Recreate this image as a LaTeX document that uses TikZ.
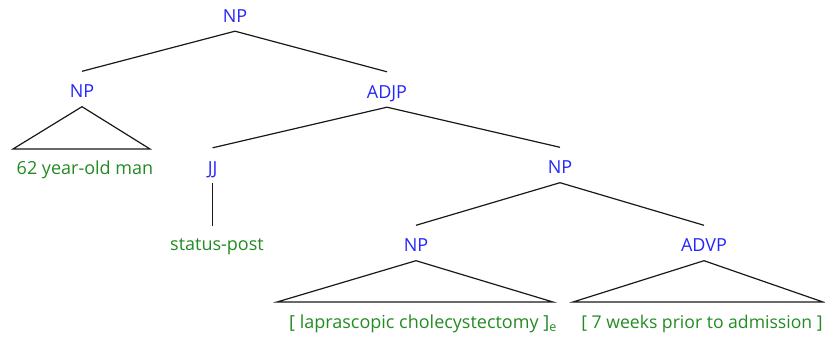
\documentclass[tikz,border=0pt]{standalone}
\usepackage{fontspec}
\setmainfont{Open Sans}
\definecolor{catblue}{RGB}{38,38,250}
\definecolor{wordgreen}{RGB}{34,139,34}
\begin{document}
\begin{tikzpicture}[x=1pt,y=1pt,
  cat/.style={anchor=base, inner sep=0pt, text=catblue,
    font=\fontsize{18}{21}\selectfont, text height=26.5pt, text depth=8.5pt},
  word/.style={anchor=base, inner sep=0pt, text=wordgreen,
    font=\fontsize{18}{21}\selectfont, text height=24.5pt, text depth=5pt},
  edge/.style={line width=1.2pt, draw=black!90}]
\useasboundingbox (0,0) rectangle (825,-339);

% phrase labels
\node[cat] (s)    at (235,-22.5) {NP};
\node[cat] (np1)  at (82,-98)    {NP};
\node[cat] (adjp) at (387,-98.5) {ADJP};
\node[cat] (jj)   at (212.6,-174.5){JJ};
\node[cat] (np2)  at (560,-174)  {NP};
\node[cat] (np3)  at (416,-252)  {NP};
\node[cat] (advp) at (704,-252)  {ADVP};

% words
\node[word] (w1) at (85,-174.5)  {62 year-old man};
\node[word] (w2) at (217,-250.5) {status-post};
\node[word] (w3) at (423,-328.5) {[ laprascopic cholecystectomy ]\textsubscript{e}};
\node[word, font=\fontsize{17.6}{21}\selectfont] (w4) at (702,-328.5) {[ 7 weeks prior to admission ]};

% triangle base corners
\coordinate (t1l) at (13,-149);
\coordinate (t1r) at (150,-149);
\coordinate (t3l) at (277,-302);
\coordinate (t3r) at (553,-302);
\coordinate (t4l) at (573,-302);
\coordinate (t4r) at (823,-302);

% branches
\draw[edge] (s.south) -- (np1.north);
\draw[edge] (s.south) -- (adjp.north);
\draw[edge] (adjp.south) -- (jj.north);
\draw[edge] (adjp.south) -- (np2.north);
\draw[edge] (np2.south) -- (np3.north);
\draw[edge] (np2.south) -- (advp.north);
\draw[edge] (jj.south) -- (jj.south |- w2.north);

% collapsed subtrees
\draw[edge] (np1.south) -- (t1l) -- (t1r) -- cycle;
\draw[edge] (np3.south) -- (t3l) -- (t3r) -- cycle;
\draw[edge] (advp.south) -- (t4l) -- (t4r) -- cycle;
\end{tikzpicture}
\end{document}
